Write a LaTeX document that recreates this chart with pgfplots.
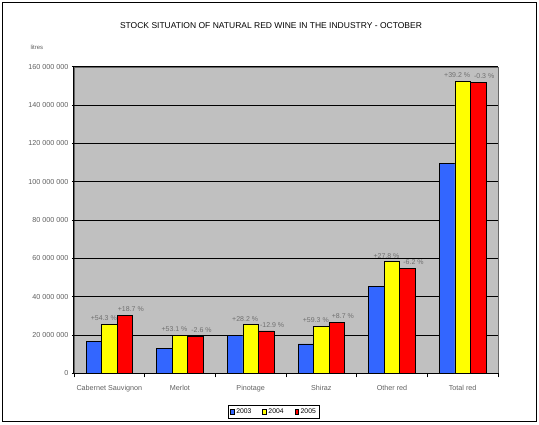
\documentclass[border=0pt]{standalone}
\usepackage{pgfplots}
\pgfplotsset{compat=1.18}
\usepackage{fontspec}
\setmainfont{Liberation Sans}
\definecolor{barblue}{HTML}{3366FF}
\definecolor{baryellow}{HTML}{FFFF00}
\definecolor{barred}{HTML}{FF0000}
\definecolor{plotgray}{HTML}{C0C0C0}
\definecolor{labgray}{HTML}{606060}
\definecolor{pctgray}{HTML}{707070}
\begin{document}
\begin{tikzpicture}
  \path (0pt,0pt) rectangle (539pt,424pt);
  \draw[line width=1.2pt] (2.5pt,2.5pt) rectangle (536.5pt,421.5pt);
  \node[font=\fontsize{8.5}{10}\selectfont] at (271pt,398pt) {STOCK SITUATION OF NATURAL RED WINE IN THE INDUSTRY - OCTOBER};
  \node[anchor=west,font=\fontsize{6}{7}\selectfont,text=labgray] at (27pt,377pt) {litres};
  \begin{axis}[
    at={(74pt,50.7pt)}, anchor=south west,
    width=424pt, height=306.6pt, scale only axis,
    ybar=0pt, bar width=15.5pt,
    xmin=-0.5, xmax=5.5,
    ymin=0, ymax=160000000,
    xtick={0,1,2,3,4,5},
    xticklabels={Cabernet Sauvignon, Merlot, Pinotage, Shiraz, Other red, Total red},
    x tick style={draw=none},
    extra x ticks={-0.5,0.5,1.5,2.5,3.5,4.5,5.5},
    extra x tick labels={},
    extra x tick style={tick align=outside, major tick length=4pt, x tick style={draw=black}},
    ytick={0,20000000,40000000,60000000,80000000,100000000,120000000,140000000,160000000},
    scaled y ticks=false,
    yticklabel style={/pgf/number format/.cd, fixed, precision=0, 1000 sep={\ }, assume math mode=true},
    tick align=outside, major tick length=4pt,
    tick style={black, line width=0.8pt},
    ticklabel style={font=\fontsize{7.2}{8}\selectfont, text=labgray},
    xticklabel style={yshift=-6pt},
    axis lines=left, axis line style={-, line width=1pt},
    axis background/.style={fill=plotgray, draw=gray!80!black},
    ymajorgrids, grid style={black, line width=0.8pt},
    point meta=explicit symbolic,
    every node near coord/.append style={font=\fontsize{7}{8}\selectfont, text=pctgray},
    legend style={at={(axis description cs:0.4717,-0.126)}, anchor=center,
      legend columns=3, draw=black, line width=0.8pt, font=\fontsize{6.8}{8}\selectfont,
      inner sep=1.5pt, /tikz/every even column/.append style={column sep=9pt}},
    legend image code/.code={\draw[#1,draw=black,line width=0.6pt] (0pt,-2.5pt) rectangle (3.5pt,2.5pt);},
  ]
    \addplot[fill=barblue, draw=black, line width=0.7pt] coordinates {
      (0,16600000) (1,12900000) (2,19800000) (3,15300000) (4,45200000) (5,109500000)
    };
    \addplot[fill=baryellow, draw=black, line width=0.7pt, nodes near coords,
      every node near coord/.append style={xshift=-5.5pt}] coordinates {
      (0,25600000) [+54.3\ \%]
      (1,19800000) [+53.1\ \%]
      (2,25300000) [+28.2\ \%]
      (3,24400000) [+59.3\ \%]
      (4,58200000) [+27.8\ \%]
      (5,152300000) [+39.2\ \%]
    };
    \addplot[fill=barred, draw=black, line width=0.7pt, nodes near coords,
      every node near coord/.append style={xshift=6pt}] coordinates {
      (0,30400000) [+18.7\ \%]
      (1,19300000) [-2.6\ \%]
      (2,22100000) [-12.9\ \%]
      (3,26500000) [+8.7\ \%]
      (4,54600000) [-6.2\ \%]
      (5,151800000) [-0.3\ \%]
    };
    \legend{2003, 2004, 2005}
  \end{axis}
\end{tikzpicture}
\end{document}
